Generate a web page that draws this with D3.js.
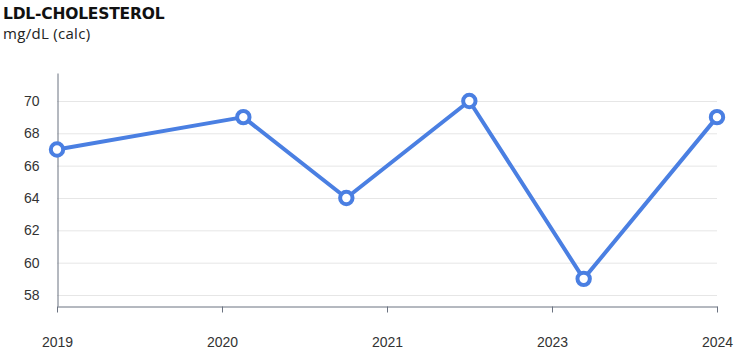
<!DOCTYPE html>
<meta charset="utf-8">
<style>
body { margin: 0; background: #fff; }
.title { font: bold 15.5px "DejaVu Sans", sans-serif; fill: #111; letter-spacing: -0.2px; }
.sub { font: 15px "Open Sans", sans-serif; fill: #222; letter-spacing: 0.3px; }
.axis text { font: 14px "Liberation Sans", Arial, sans-serif; fill: #333; }
</style>
<svg width="754" height="353"></svg>
<script src="https://d3js.org/d3.v7.min.js"></script>
<script>
// data
var dates = ["2019-03-01", "2020-09-10", "2021-07-16", "2022-07-20", "2023-06-28", "2024-08-01"];
var values = [67, 69, 64, 70, 59, 69];
var yTicks = [58, 60, 62, 64, 66, 68, 70];

var svg = d3.select("svg");
var parse = d3.timeParse("%Y-%m-%d");
var pts = dates.map(function(d, i) { return { date: parse(d), value: values[i] }; });

var x = d3.scaleTime()
    .domain(d3.extent(pts, function(d) { return d.date; }))
    .range([57, 717]);
var y = d3.scaleLinear()
    .domain([57.32, 71.73])
    .range([306, 73]);

svg.append("text").attr("class", "title").attr("x", 3).attr("y", 19).text("LDL-CHOLESTEROL");
svg.append("text").attr("class", "sub").attr("x", 3).attr("y", 39).text("mg/dL (calc)");

// gridlines
svg.append("g")
  .selectAll("line")
  .data(yTicks)
  .enter().append("line")
    .attr("x1", 57).attr("x2", 717)
    .attr("y1", function(d) { return y(d) + 0.5; })
    .attr("y2", function(d) { return y(d) + 0.5; })
    .attr("stroke", "#e6e6e6");

// y axis
var gy = svg.append("g").attr("class", "axis")
    .attr("transform", "translate(57.5,0)")
    .call(d3.axisLeft(y).tickValues(yTicks).tickSize(0).tickPadding(18));
gy.select(".domain").attr("stroke", "#6b7280");

// x axis: five evenly spaced ticks across the domain
var dom = x.domain();
var xTicks = d3.range(5).map(function(i) {
  return new Date(+dom[0] + (dom[1] - dom[0]) * i / 4);
});
var gx = svg.append("g").attr("class", "axis")
    .attr("transform", "translate(0,306.5)")
    .call(d3.axisBottom(x).tickValues(xTicks).tickFormat(d3.timeFormat("%Y")).tickSize(6).tickSizeOuter(0).tickPadding(25));
gx.select(".domain").attr("stroke", "#6b7280");
gx.selectAll(".tick line").attr("stroke", "#6b7280");

// line
var line = d3.line()
    .x(function(d) { return x(d.date); })
    .y(function(d) { return y(d.value); });

svg.append("path")
    .datum(pts)
    .attr("fill", "none")
    .attr("stroke", "#4a7fe2")
    .attr("stroke-width", 4)
    .attr("stroke-linejoin", "round")
    .attr("d", line);

svg.append("g")
  .selectAll("circle")
  .data(pts)
  .enter().append("circle")
    .attr("cx", function(d) { return x(d.date); })
    .attr("cy", function(d) { return y(d.value); })
    .attr("r", 6.2)
    .attr("fill", "#fff")
    .attr("stroke", "#4a7fe2")
    .attr("stroke-width", 4);
</script>
